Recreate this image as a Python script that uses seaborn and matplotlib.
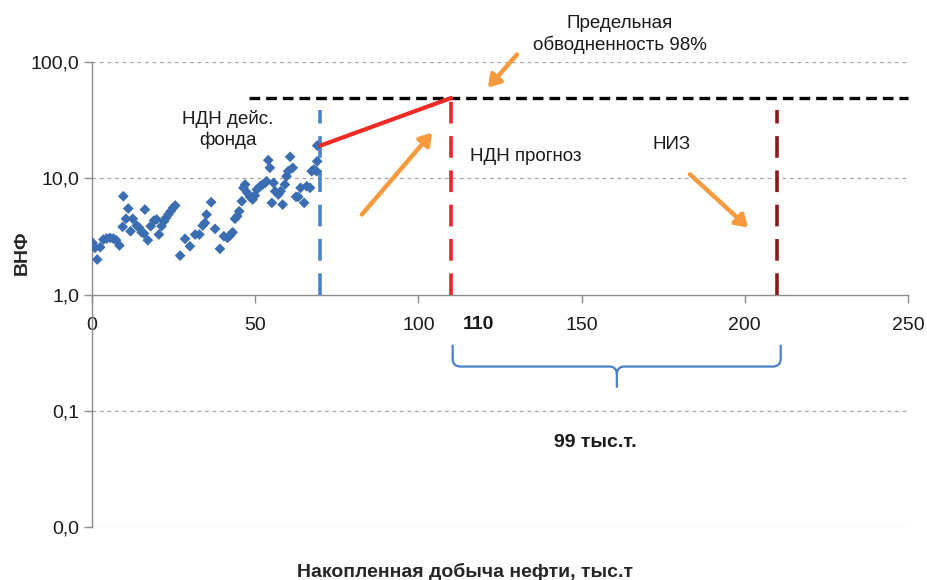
import numpy as np
import pandas as pd
import matplotlib
matplotlib.use("Agg")
import matplotlib.pyplot as plt
from matplotlib.path import Path
from matplotlib.patches import PathPatch
from matplotlib.ticker import FixedLocator, FixedFormatter, NullLocator
import seaborn as sns

# --- data -------------------------------------------------------------
# cumulative oil production (thousand t) and water-oil ratio of the current well stock
cum_oil = [0.2, 0.9, 1.6, 2.5, 3.5, 4.5, 5.5, 6.5, 7.4, 8.4, 9.4, 9.6, 10.4, 11.1,
           11.8, 12.5, 13.7, 14.5, 15.2, 15.9, 16.2, 17.1, 18.0, 19.0, 19.8, 20.5,
           21.3, 22.1, 22.7, 23.4, 24.1, 24.8, 25.5, 27.0, 28.5, 30.0, 31.6, 32.9,
           33.9, 34.6, 35.1, 36.5, 37.7, 39.2, 40.4, 41.5, 42.3, 43.1, 43.8, 44.5,
           45.1, 45.9, 46.4, 46.9, 47.6, 48.4, 49.2, 49.9, 50.5, 51.5, 52.3, 53.0,
           53.5, 54.0, 54.5, 55.1, 55.6, 56.1, 57.1, 57.8, 58.4, 59.1, 59.6, 60.1,
           60.7, 61.5, 62.5, 63.2, 63.9, 65.0, 65.8, 66.8, 67.3, 68.0, 68.8, 69.0,
           69.0]
wor = [2.78, 2.52, 2.00, 2.55, 2.97, 3.03, 3.07, 3.03, 2.93, 2.64, 3.82, 7.00,
       4.48, 5.49, 3.50, 4.48, 3.92, 3.74, 3.43, 3.35, 5.38, 2.93, 3.87, 4.33,
       4.42, 3.28, 3.87, 4.27, 4.56, 4.87, 5.20, 5.56, 5.82, 2.16, 3.01, 2.60,
       3.28, 3.28, 3.92, 4.13, 4.87, 6.22, 3.67, 2.47, 3.17, 3.07, 3.22, 3.43,
       4.48, 4.71, 5.20, 6.34, 8.27, 8.83, 7.49, 6.92, 6.56, 7.10, 8.00, 8.53,
       8.83, 9.12, 9.42, 14.3, 12.3, 6.14, 9.12, 7.73, 7.24, 7.73, 5.94, 8.83,
       10.4, 11.5, 15.3, 12.3, 6.92, 6.92, 8.27, 6.14, 8.53, 8.27, 11.5, 11.9,
       11.5, 14.0, 19.1]

# forecast trend from the current stock up to the limiting water cut
trend_x = [70, 110]
trend_y = [19.1, 49.0]

wor_limit = 49.0          # 98 % water cut
limit_start = 48.0
x_current = 70            # end of current-stock recovery
x_forecast = 110          # forecast recoverable reserves
x_initial = 210           # initial recoverable reserves

y_ticks = [0.01, 0.1, 1, 10, 100]
y_tick_labels = ["0,0", "0,1", "1,0", "10,0", "100,0"]
x_ticks = [0, 50, 100, 150, 200, 250]
x_tick_labels = ["0", "50", "100", "150", "200", "250"]

# --- style ------------------------------------------------------------
sns.set_style("white")
plt.rcParams["font.family"] = ["Liberation Sans", "DejaVu Sans"]

fig = plt.figure(figsize=(9.28, 5.8), dpi=100)
ax = fig.add_axes([92 / 928, 1 - 527 / 580, 816 / 928, 465 / 580])

ax.set_yscale("log")
ax.set_xlim(0, 250)
ax.set_ylim(0.01, 100)

# gridlines
for yv in [0.01, 0.1, 10, 100]:
    ax.axhline(yv, color="#a6a6a6", lw=0.9, ls=(0, (3, 3)), zorder=0)

# axes: horizontal axis crosses at 1
for s in ["top", "right"]:
    ax.spines[s].set_visible(False)
ax.spines["bottom"].set_position(("data", 1))
ax.spines["bottom"].set_color("#8c8c8c")
ax.spines["left"].set_color("#8c8c8c")
ax.spines["bottom"].set_linewidth(1.0)
ax.spines["left"].set_linewidth(1.0)

ax.yaxis.set_major_locator(FixedLocator(y_ticks))
ax.yaxis.set_major_formatter(FixedFormatter(y_tick_labels))
ax.yaxis.set_minor_locator(NullLocator())
ax.set_xticks(x_ticks)
ax.set_xticklabels(x_tick_labels)
ax.tick_params(axis="both", which="major", direction="out", length=6, width=1,
               color="#8c8c8c", labelsize=14, labelcolor="#1a1a1a",
               bottom=True, left=True)
ax.tick_params(axis="x", pad=10)
ax.tick_params(axis="y", pad=3)

# scatter of the current well stock
df = pd.DataFrame({"x": cum_oil, "y": wor})
sns.scatterplot(data=df, x="x", y="y", marker="D", s=30, color="#3a6db1",
                edgecolor="none", ax=ax, zorder=4)

# forecast trend
sns.lineplot(x=trend_x, y=trend_y, color="#ee2a24", lw=3, ax=ax, zorder=5)

# limiting water cut
ax.plot([limit_start, 250], [wor_limit, wor_limit], color="black", lw=2.4,
        ls=(0, (3.2, 1.8)), zorder=3, clip_on=False)

# vertical markers
ax.plot([x_current, x_current], [1, 39], color="#4a82cc", lw=2.6,
        ls=(0, (6, 3.5)), zorder=3)
ax.plot([x_forecast, x_forecast], [1, 47], color="#f5202a", lw=2.6,
        ls=(0, (6, 3.5)), zorder=3)
ax.plot([x_initial, x_initial], [1, 39], color="#8b1a1a", lw=2.6,
        ls=(0, (6, 3.5)), zorder=3)

ax.set_xlabel("")
ax.set_ylabel("")

# annotations
txt = dict(fontsize=13.5, color="#1a1a1a", ha="center", va="center")
ax.text(161.8, 172, "Предельная\nобводненность 98%", linespacing=1.25,
        clip_on=False, **txt)
ax.text(41.7, 26.2, "НДН дейс.\nфонда", linespacing=1.3, **txt)
ax.text(115.8, 15.4, "НДН прогноз", fontsize=13.5, color="#1a1a1a",
        ha="left", va="center")
ax.text(177.7, 19.5, "НИЗ", **txt)
ax.text(118.3, 0.55, "110", fontsize=14, fontweight="bold", color="#1a1a1a",
        ha="center", va="center")
ax.text(154.1, 0.0533, "99 тыс.т.", fontsize=14, fontweight="bold",
        color="#1a1a1a", ha="center", va="center")

arrow = dict(arrowstyle="-|>,head_length=0.7,head_width=0.45", color="#f79a3e",
             lw=3.2, shrinkA=0, shrinkB=0)
ax.annotate("", xy=(121.3, 60.2), xytext=(130.2, 115.8), arrowprops=arrow,
            annotation_clip=False)
ax.annotate("", xy=(104.2, 24.7), xytext=(82.7, 4.88), arrowprops=arrow)
ax.annotate("", xy=(201.0, 3.77), xytext=(183.2, 10.8), arrowprops=arrow)

# curly brace under the forecast range
xl, xr, xc = 110.5, 211.0, 160.8
yt, ym, yb = 0.37, 0.24, 0.158
verts = [(xl, yt), (xl, 0.28), (xl, ym), (xl + 2.5, ym), (xc - 2.3, ym),
         (xc, ym), (xc, 0.205), (xc, yb),
         (xc, 0.205), (xc, ym), (xc + 2.3, ym), (xr - 2.5, ym), (xr, ym),
         (xr, 0.28), (xr, yt)]
codes = [Path.MOVETO, Path.LINETO, Path.CURVE3, Path.CURVE3, Path.LINETO,
         Path.CURVE3, Path.CURVE3, Path.LINETO,
         Path.MOVETO, Path.CURVE3, Path.CURVE3, Path.LINETO, Path.CURVE3,
         Path.CURVE3, Path.LINETO]
ax.add_patch(PathPatch(Path(verts, codes), fill=False, edgecolor="#4a7fc8",
                       lw=1.6, zorder=3))

# axis titles
fig.text(465 / 928, 1 - 572 / 580, "Накопленная добыча нефти, тыс.т",
         fontsize=14, fontweight="bold", ha="center", va="center")
fig.text(22 / 928, 1 - 253 / 580, "ВНФ", fontsize=14, fontweight="bold",
         rotation=90, ha="center", va="center")

fig.savefig("out.png", dpi=100)
